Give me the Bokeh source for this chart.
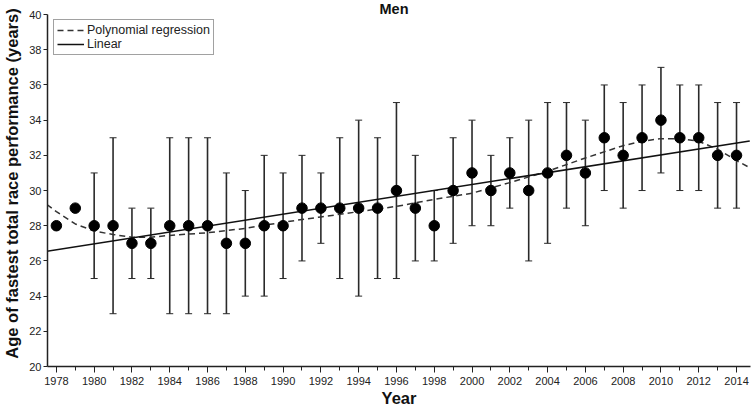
from bokeh.plotting import figure
from bokeh.models import (Range1d, SingleIntervalTicker, Whisker, TeeHead,
                          ColumnDataSource, Legend, LegendItem, Label)
from bokeh.embed import file_html
from bokeh.resources import INLINE

# ---- data ----
years = list(range(1978, 2015))
ages = [28, 29, 28, 28, 27, 27, 28, 28, 28, 27, 27, 28, 28, 29, 29, 29, 29, 29, 30,
        29, 28, 30, 31, 30, 31, 30, 31, 32, 31, 33, 32, 33, 34, 33, 33, 32, 32]
upper = [None, None, 31, 33, 29, 29, 33, 33, 33, 31, 30, 32, 31, 32, 31, 33, 34, 33, 35,
         32, 30, 33, 34, 32, 33, 34, 35, 35, 34, 36, 35, 36, 37, 36, 36, 35, 35]
lower = [None, None, 25, 23, 25, 25, 23, 23, 23, 23, 24, 24, 25, 26, 27, 25, 24, 25, 25,
         26, 26, 27, 28, 28, 29, 26, 27, 29, 28, 30, 29, 30, 31, 30, 30, 29, 29]

poly_years = [1977.5, 1978, 1979, 1980, 1981, 1982, 1983, 1984, 1986, 1988, 1990, 1992,
              1994, 1996, 1998, 2000, 2002, 2004, 2006, 2008, 2009, 2010, 2011, 2012,
              2013, 2014, 2014.7]
poly_values = [29.2, 28.8, 28.1, 27.7, 27.5, 27.35, 27.35, 27.45, 27.6, 27.85, 28.2, 28.5,
               28.8, 29.1, 29.5, 29.85, 30.45, 31.1, 31.85, 32.55, 32.8, 32.95, 32.95, 32.8,
               32.35, 31.7, 31.3]

linear_years = [1977.5, 2014.7]
linear_values = [26.55, 32.82]

title_text = "Men"
x_label = "Year"
y_label = "Age of fastest total race performance (years)"
legend_labels = ["Polynomial regression", "Linear"]

FONT = "Liberation Sans"

# y range extends a little above 40 so that the title sits inside the frame;
# the visible axis is bounded to 20..40
p = figure(width=752, height=409, output_backend="svg", toolbar_location=None,
           x_range=Range1d(1977.53, 2014.74), y_range=Range1d(20, 40.8),
           min_border_left=43, min_border_right=2, min_border_top=0, min_border_bottom=43)
p.outline_line_color = None
p.xgrid.visible = False
p.ygrid.visible = False
p.background_fill_color = "white"

# regression lines
r_poly = p.line(poly_years, poly_values, line_color="#333333", line_width=1.5,
                line_dash="6 4")
r_lin = p.line(linear_years, linear_values, line_color="#111111", line_width=1.5)

# error bars
ex = [y for y, u in zip(years, upper) if u is not None]
eu = [u for u in upper if u is not None]
el = [l for l in lower if l is not None]
esrc = ColumnDataSource(dict(x=ex, upper=eu, lower=el))
w = Whisker(source=esrc, base="x", upper="upper", lower="lower",
            line_color="#2a2a2a", line_width=1.6,
            upper_head=TeeHead(size=7, line_color="#2a2a2a", line_width=1),
            lower_head=TeeHead(size=7, line_color="#2a2a2a", line_width=1))
p.add_layout(w)

# points
p.scatter(years, ages, size=10.5, fill_color="black", line_color="black")

# axes
for ax in (p.xaxis[0], p.yaxis[0]):
    ax.axis_line_color = "#222222"
    ax.axis_line_width = 1.5
    ax.major_tick_line_color = "#222222"
    ax.minor_tick_line_color = "#222222"
    ax.major_tick_in = 0
    ax.minor_tick_in = 0
    ax.major_label_text_font = FONT
    ax.major_label_text_font_size = "11px"
    ax.major_label_text_color = "#222222"
    ax.axis_label_text_font = FONT
    ax.axis_label_text_font_style = "bold"
    ax.axis_label_text_color = "#111111"
    ax.axis_label_text_font_size = "16.5px"

p.xaxis.ticker = SingleIntervalTicker(interval=2, num_minor_ticks=2)
p.xaxis.major_tick_out = 6
p.xaxis.minor_tick_out = 4
p.xaxis.major_label_standoff = 4
p.xaxis.axis_label = x_label
p.xaxis.axis_label_standoff = 1

p.yaxis.ticker = SingleIntervalTicker(interval=2, num_minor_ticks=0)
p.yaxis.bounds = (20, 40)
p.yaxis.major_tick_out = 4
p.yaxis.major_label_standoff = 2
p.yaxis.axis_label = y_label
p.yaxis.axis_label_standoff = 5

# legend
legend = Legend(items=[LegendItem(label=legend_labels[0], renderers=[r_poly]),
                       LegendItem(label=legend_labels[1], renderers=[r_lin])],
                location=(6, 311))
legend.margin = 0
legend.padding = 3
legend.spacing = 0
legend.label_text_font = FONT
legend.label_text_font_size = "12.5px"
legend.label_text_color = "#222222"
legend.label_height = 14
legend.glyph_height = 14
legend.glyph_width = 27
legend.label_standoff = 3
legend.border_line_color = "#444444"
legend.border_line_width = 1.2
legend.background_fill_alpha = 1
p.add_layout(legend)

# title
title = Label(x=1995.87, y=40.34, text=title_text, text_align="center",
              text_baseline="alphabetic", text_font=FONT,
              text_font_style="bold", text_font_size="14.5px", text_color="#111111")
p.add_layout(title)

open("out.html", "w").write(file_html(p, INLINE))
